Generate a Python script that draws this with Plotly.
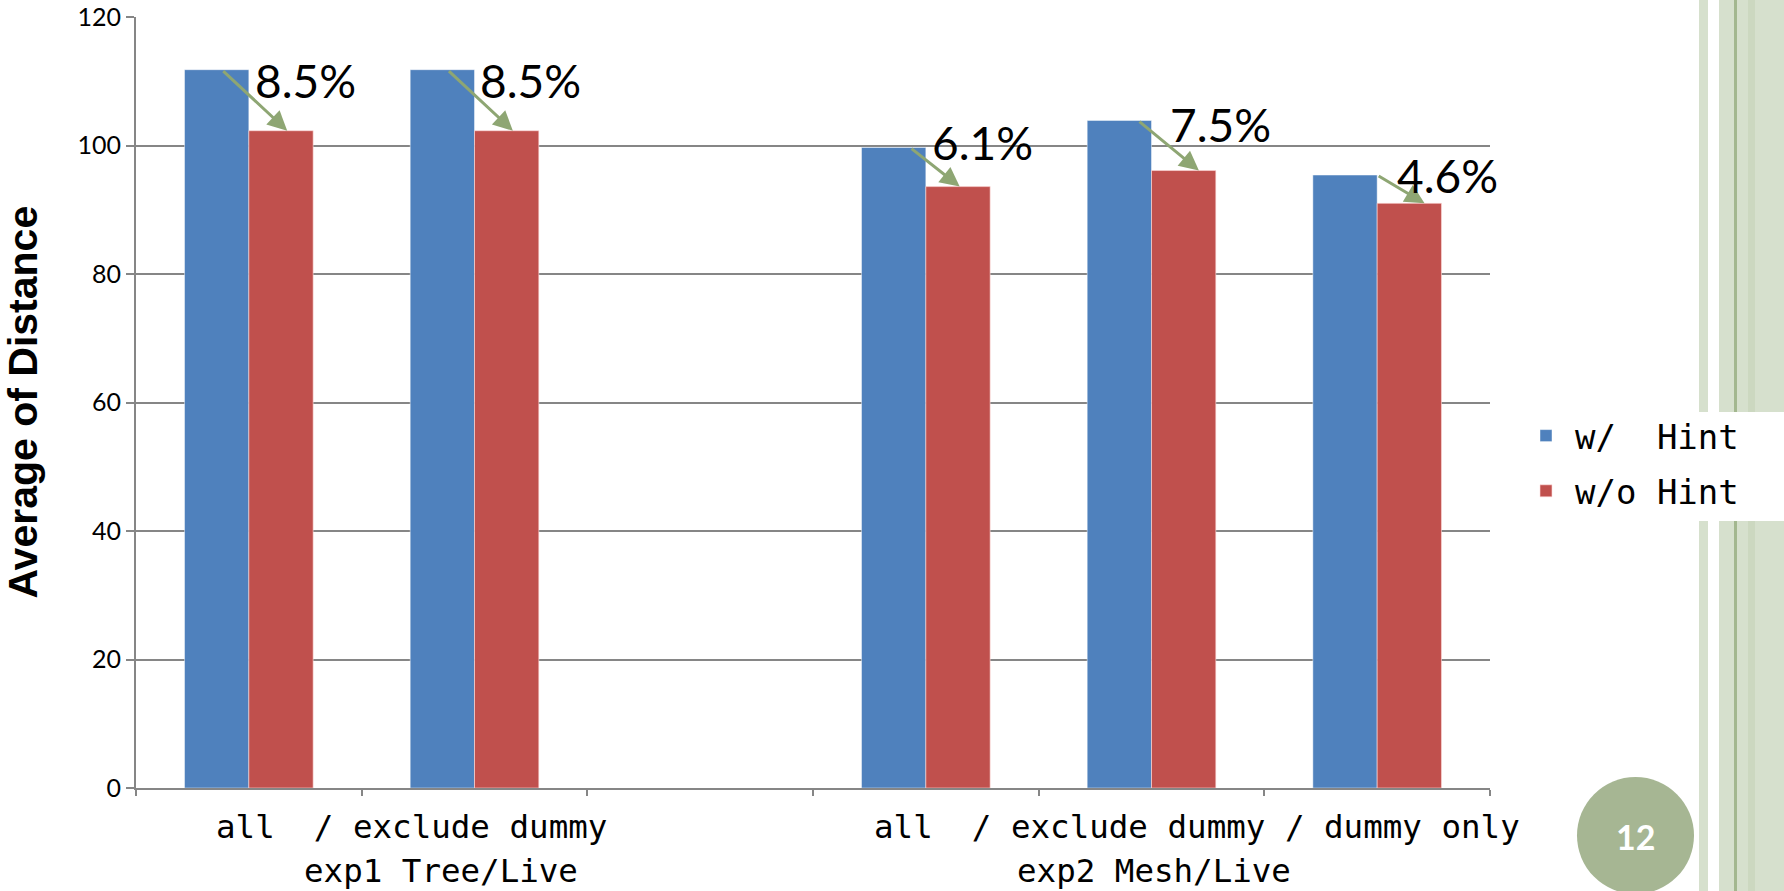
import plotly.graph_objects as go

# ---------------- data ----------------
categories = ["exp1 all", "exp1 exclude dummy", "gap", "exp2 all", "exp2 exclude dummy", "exp2 dummy only"]
with_hint = [111.8, 111.8, None, 99.7, 103.9, 95.4]
without_hint = [102.3, 102.3, None, 93.6, 96.1, 91.0]
series_names = ["w/  Hint", "w/o Hint"]
pct_labels = ["8.5%", "8.5%", None, "6.1%", "7.5%", "4.6%"]
group_line1 = ["all  / exclude dummy", "all  / exclude dummy / dummy only"]
group_line2 = ["exp1 Tree/Live", "exp2 Mesh/Live"]
y_ticks = [0, 20, 40, 60, 80, 100, 120]
y_title = "Average of Distance"
page_number = "12"

# ---------------- placement styles (offsets in category units / value units) ----------------
group_line1_x = [0.72, 4.20]
group_line2_x = [0.85, 4.01]
label_dx = [0.25, 0.25, 0, 0.25, 0.305, 0.31]
label_dy = [-1.7, -1.7, 0, 0.8, -0.65, -0.1]
arrow_x0 = [-0.12, -0.12, 0, -0.07, -0.06, 0.0]
arrow_x1 = [0.17, 0.17, 0, 0.15, 0.21, 0.21]

# ---------------- geometry helpers (pixels -> paper) ----------------
W, H = 1784, 891
L, R, T, B = 136, 1490, 17, 788


def px_x(p):
    return (p - L) / (R - L)


def px_y(p):
    return (B - p) / (B - T)


def nb(s):
    return s.replace(" ", "\u00a0")


BLUE = "#4F81BD"
RED = "#C0504D"
GRID = "#868686"
ARROW = "#8EA673"
MONO = "DejaVu Sans Mono"

fig = go.Figure()
fig.add_trace(go.Bar(x=categories, y=with_hint, name=nb(series_names[0]), legendgroup="a",
                     marker=dict(color=BLUE, line=dict(color="rgba(255,255,255,0.45)", width=1))))
fig.add_trace(go.Bar(x=categories, y=without_hint, name=nb(series_names[1]), legendgroup="b",
                     marker=dict(color=RED, line=dict(color="rgba(255,220,220,0.6)", width=1))))

annotations = []
# arrows and percentage labels
for i, (a, b, lab) in enumerate(zip(with_hint, without_hint, pct_labels)):
    if a is None:
        continue
    annotations.append(dict(x=i + arrow_x1[i], y=b, xref="x", yref="y",
                            ax=i + arrow_x0[i], ay=a, axref="x", ayref="y",
                            text="", showarrow=True, arrowhead=2, arrowsize=1.3,
                            arrowwidth=3, arrowcolor=ARROW, standoff=0, startstandoff=0))
    annotations.append(dict(x=i + label_dx[i], y=a + label_dy[i], xref="x", yref="y", text=lab,
                            showarrow=False, xanchor="center", yanchor="middle",
                            font=dict(family="Lato", size=46, color="black")))

# category group labels
for t1, x1, t2, x2 in zip(group_line1, group_line1_x, group_line2, group_line2_x):
    annotations.append(dict(x=x1, y=px_y(827), xref="x", yref="paper", text=nb(t1),
                            showarrow=False, xanchor="center", yanchor="middle",
                            font=dict(family=MONO, size=32.5, color="black")))
    annotations.append(dict(x=x2, y=px_y(871), xref="x", yref="paper", text=nb(t2),
                            showarrow=False, xanchor="center", yanchor="middle",
                            font=dict(family=MONO, size=32.5, color="black")))

# y axis title
annotations.append(dict(x=px_x(22), y=0.5, xref="paper", yref="paper", text=f"<b>{y_title}</b>",
                        textangle=-90, showarrow=False, xanchor="center", yanchor="middle",
                        font=dict(family="Liberation Sans", size=41, color="black")))

# page number
annotations.append(dict(x=px_x(1635), y=px_y(836), xref="paper", yref="paper", text=f"<b>{page_number}</b>",
                        showarrow=False, xanchor="center", yanchor="middle",
                        font=dict(family="Lato", size=34, color="white")))

shapes = [
    dict(type="rect", xref="paper", yref="paper", x0=px_x(1699), x1=px_x(1708), y0=px_y(0), y1=px_y(H),
         fillcolor="#D6E0CD", line=dict(width=0), layer="below"),
    dict(type="rect", xref="paper", yref="paper", x0=px_x(1719), x1=px_x(W + 2), y0=px_y(0), y1=px_y(H),
         fillcolor="#D6E0CD", line=dict(width=0), layer="below"),
    dict(type="rect", xref="paper", yref="paper", x0=px_x(1748), x1=px_x(1755), y0=px_y(0), y1=px_y(H),
         fillcolor="#CCD8C0", line=dict(width=0), layer="below"),
    dict(type="rect", xref="paper", yref="paper", x0=px_x(1734), x1=px_x(1737), y0=px_y(0), y1=px_y(H),
         fillcolor="#A3B78F", line=dict(width=0), layer="below"),
    dict(type="rect", xref="paper", yref="paper", x0=px_x(1690), x1=px_x(W + 2), y0=px_y(412), y1=px_y(521),
         fillcolor="white", line=dict(width=0), layer="below"),
    dict(type="circle", xref="paper", yref="paper", x0=px_x(1577), x1=px_x(1694), y0=px_y(777), y1=px_y(894),
         fillcolor="#A6B693", line=dict(width=0), layer="below"),
]

fig.update_layout(
    width=W, height=H,
    margin=dict(l=L, r=W - R, t=T, b=H - B, autoexpand=False),
    paper_bgcolor="white", plot_bgcolor="white",
    barmode="group", bargap=0.43, bargroupgap=0.0,
    showlegend=True,
    legend=dict(x=px_x(1517), y=px_y(407), xanchor="left", yanchor="top",
                font=dict(family=MONO, size=34, color="black"),
                bgcolor="rgba(0,0,0,0)", traceorder="grouped", tracegroupgap=8, itemwidth=48),
    annotations=annotations,
    shapes=shapes,
    xaxis=dict(type="category", categoryorder="array", categoryarray=categories,
               range=[-0.5, 5.5], showticklabels=False, showgrid=False,
               showline=True, linecolor=GRID, linewidth=2,
               ticks="outside", tickson="boundaries", ticklen=6, tickcolor=GRID, tickwidth=2),
    yaxis=dict(range=[0, 120], tickvals=y_ticks, showgrid=True, gridcolor=GRID, gridwidth=1.5,
               showline=True, linecolor=GRID, linewidth=2, zeroline=False,
               ticks="outside", ticklen=8, tickcolor=GRID, tickwidth=2,
               ticklabeloverflow="allow",
               tickfont=dict(family="Lato", size=25, color="black")),
)

fig.write_html("out.html")
